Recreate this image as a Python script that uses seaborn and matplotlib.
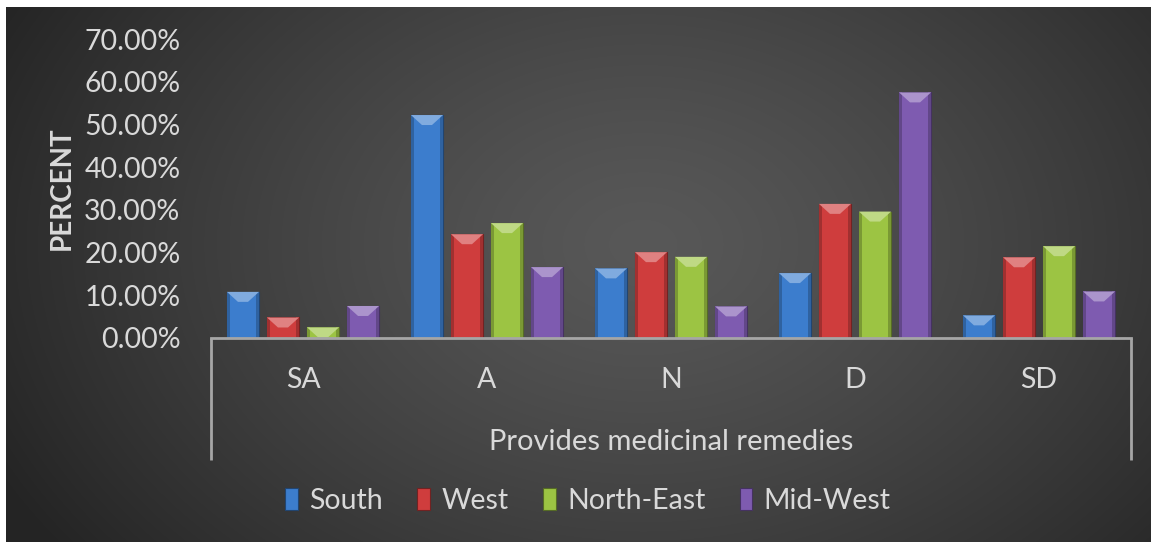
import numpy as np
import pandas as pd
import matplotlib
matplotlib.use("Agg")
import matplotlib.pyplot as plt
import seaborn as sns
from matplotlib.patches import Polygon, Patch, Rectangle
from matplotlib.colors import to_rgb

# Survey responses by region (percent of respondents)
categories = ["SA", "A", "N", "D", "SD"]
regions = ["South", "West", "North-East", "Mid-West"]
south = [10.8, 52.2, 16.3, 15.2, 5.3]
west = [4.8, 24.3, 20.1, 31.4, 18.9]
north_east = [2.5, 26.9, 19.0, 29.6, 21.5]
mid_west = [7.5, 16.6, 7.4, 57.5, 10.9]
y_ticks = [0, 10, 20, 30, 40, 50, 60, 70]
palette = ["#3c7dcd", "#cf3d3d", "#9cc443", "#7e5bb0"]

df = pd.DataFrame({
    "response": categories * 4,
    "region": np.repeat(regions, len(categories)),
    "percent": south + west + north_east + mid_west,
})

sns.set_theme(style="dark")
plt.rcParams["font.family"] = ["Lato", "DejaVu Sans"]
text_color = "#d9d9d9"
line_color = "#a6a6a6"

W, H = 1151, 542
fig = plt.figure(figsize=(W / 100, H / 100), dpi=100, facecolor="white")

# radial gradient backdrop
bg = fig.add_axes([6 / W, 0, 1 - 6 / W, 1 - 7 / H], zorder=0)
yy, xx = np.mgrid[0:H, 0:W]
r = np.sqrt(((xx - 640) / 720.0) ** 2 + ((yy - 240) / 520.0) ** 2)
shade = np.clip(0.345 - 0.2 * r ** 1.3, 0.145, 1)
bg.imshow(np.dstack([shade] * 3), aspect="auto", extent=[0, 1, 0, 1])
bg.set_axis_off()

ax = fig.add_axes([211 / W, 1 - 338 / H, 920 / W, 299 / H], zorder=1)
ax.set_facecolor("none")

sns.barplot(data=df, x="response", y="percent", hue="region",
            order=categories, hue_order=regions, palette=palette,
            saturation=1, width=0.87, gap=0.2, legend=False, ax=ax,
            errorbar=None)

px_y = 70 / 299.0    # data units per pixel (vertical)
px_x = 1 / 184.0     # data units per pixel (horizontal)

def mix(c, other, t):
    c = np.array(to_rgb(c)); o = np.array(to_rgb(other))
    return tuple(c * (1 - t) + o * t)

for bar in list(ax.patches):
    x0, w, h = bar.get_x(), bar.get_width(), bar.get_height()
    fc = bar.get_facecolor()
    bar.set_edgecolor(mix(fc, "black", 0.45))
    bar.set_linewidth(0.8)
    # darker side bevels
    sw = 3 * px_x
    for xs in (x0, x0 + w - sw):
        ax.add_patch(Rectangle((xs, 0), sw, h, facecolor=mix(fc, "black", 0.22),
                               edgecolor="none", zorder=bar.get_zorder() + 0.1))
    # lighter top cap
    d = min(10 * px_y, h)
    inset = min(11 * px_x, w / 2 - 0.005)
    cap = Polygon([(x0, h), (x0 + w, h), (x0 + w - inset, h - d), (x0 + inset, h - d)],
                  closed=True, facecolor=mix(fc, "white", 0.35), edgecolor="none",
                  zorder=bar.get_zorder() + 0.2)
    ax.add_patch(cap)

ax.set_ylim(0, 70)
ax.set_xlim(-0.5, 4.5)
ax.set_yticks(y_ticks)
ax.set_yticklabels([f"{v:.2f}%" for v in y_ticks])
ax.tick_params(axis="y", length=0, pad=22, labelsize=20.5, labelcolor=text_color)
ax.tick_params(axis="x", length=0, pad=21, labelsize=20.5, labelcolor=text_color)
ax.grid(False)
for s in ("top", "right", "left"):
    ax.spines[s].set_visible(False)
ax.spines["bottom"].set_color(line_color)
ax.spines["bottom"].set_linewidth(2)

# category frame below the axis
drop = -122 / 299.0
for xa in (0, 1):
    ax.plot([xa, xa], [0, drop], transform=ax.transAxes, color=line_color,
            lw=2, clip_on=False, solid_capstyle="butt")

ax.set_xlabel("Provides medicinal remedies", fontsize=21, color=text_color, labelpad=26)
ax.set_ylabel("PERCENT", fontsize=20, fontweight="bold", color=text_color, labelpad=7)

handles = [Patch(facecolor=c, edgecolor=mix(c, "black", 0.45), linewidth=0.8) for c in palette]
fig.legend(handles, regions, loc="center", bbox_to_anchor=(588 / W, 1 - 501 / H),
           ncol=4, frameon=False, fontsize=20.5, labelcolor=text_color,
           handlelength=0.45, handleheight=0.8, handletextpad=0.4, columnspacing=1.2)

fig.savefig("out.png", dpi=100, facecolor="white")
